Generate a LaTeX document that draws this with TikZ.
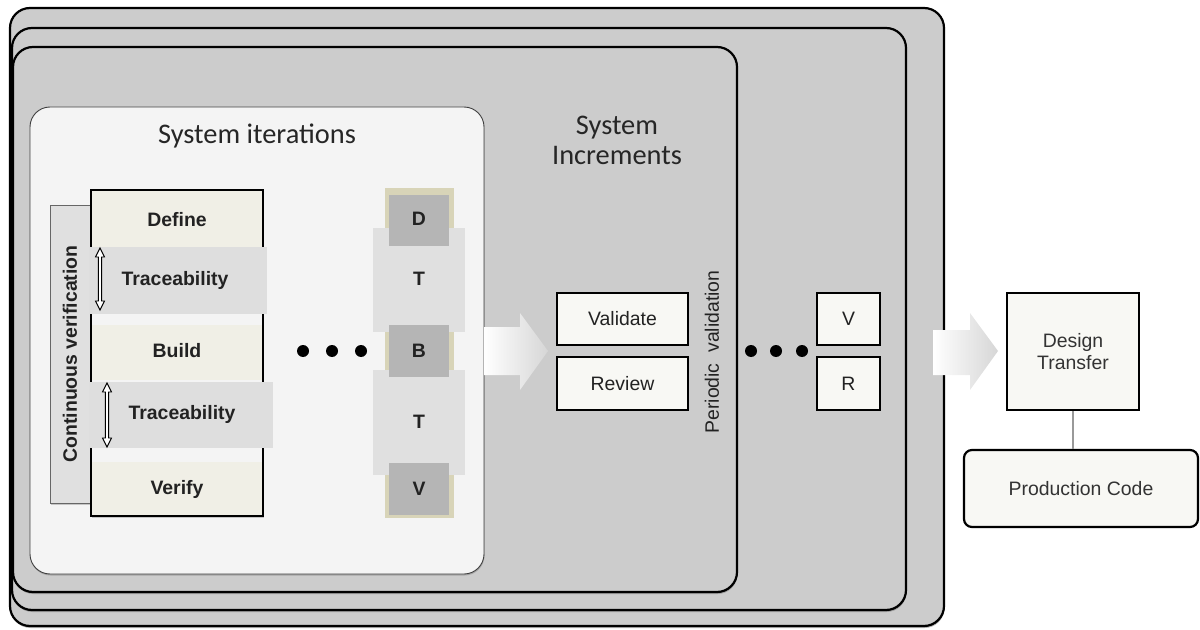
\documentclass[tikz,border=0pt]{standalone}
\usepackage{fontspec}
\setmainfont{Liberation Sans}
\newfontfamily\calib{Carlito}
\usetikzlibrary{shadows}
\definecolor{panelgray}{HTML}{CCCCCC}
\definecolor{innerwhite}{HTML}{F4F4F4}
\definecolor{cream}{HTML}{F0EFE6}
\definecolor{bandgray}{HTML}{DEDEDE}
\definecolor{tabgray}{HTML}{E0E0E0}
\definecolor{tan}{HTML}{D8D4B8}
\definecolor{midgray}{HTML}{B5B5B5}
\definecolor{boxfill}{HTML}{F8F8F4}
\definecolor{txt}{HTML}{222222}
\tikzset{
  panel/.style={draw=black, line width=2.2bp, fill=panelgray, rounded corners=20bp,
    drop shadow={shadow xshift=0.5bp, shadow yshift=-2bp, opacity=.6}},
  lbl/.style={font=\fontsize{19.5}{22}\selectfont, text=txt, inner sep=0pt},
  blbl/.style={font=\fontsize{19.5}{22}\selectfont\bfseries, text=txt, inner sep=0pt},
  wbox/.style={draw=black, line width=2.2bp, fill=boxfill},
  fatarrow/.style={left color=white, right color=black!16, draw=none},
  dotstyle/.style={fill=black, draw=none},
  smallarr/.style={draw=black, line width=0.9bp, fill=white},
}
\begin{document}
\begin{tikzpicture}[x=1bp,y=-1bp]
\useasboundingbox (0,0) rectangle (1200,630);
% stacked panels
\draw[panel] (10,8) rectangle (944,626);
\draw[panel] (12,28) rectangle (906,610);
\draw[panel] (13,47) rectangle (737,592);
% inner white panel
\draw[draw=black!75, line width=0.9bp, fill=innerwhite, rounded corners=20bp,
  drop shadow={shadow xshift=0.5bp, shadow yshift=-1.5bp, opacity=.5}] (30,107) rectangle (484,574);
\node[font=\calib\fontsize{28.5}{31}\selectfont, text=black!85] (titleA) at (257,136) {System iterations};
\node[font=\calib\fontsize{28.5}{31}\selectfont, text=black!85, align=center] (titleB) at (617,140) {System\\[-1pt]Increments};
% continuous verification tab
\draw[draw=black!60, line width=0.8bp, fill=tabgray,
  drop shadow={shadow xshift=0.5bp, shadow yshift=-1.5bp, opacity=.4}] (50,205) rectangle (91,503);
% column
\fill[innerwhite, drop shadow={shadow xshift=0.5bp, shadow yshift=-1.5bp, opacity=.4}] (91,190) rectangle (263,516);
\fill[cream] (91,190) rectangle (263,247);
\fill[cream] (91,325) rectangle (263,380);
\fill[cream] (91,462) rectangle (263,516);
\draw[line width=2.6bp, black] (91,190) rectangle (263,516);
\fill[bandgray] (89,247) rectangle (267,314);
\fill[bandgray] (89,382) rectangle (273,448);
\node[blbl, rotate=90] (cv) at (70,354) {Continuous verification};
\node[blbl] (def) at (177,220) {Define};
\node[blbl] (tr1) at (175,280) {Traceability};
\node[blbl] (bld) at (177,351) {Build};
\node[blbl] (tr2) at (182,414) {Traceability};
\node[blbl] (ver) at (177,489) {Verify};
% small double arrows
\draw[smallarr] (100,248) -- (104.5,257) -- (101.6,257) -- (101.6,301) -- (104.5,301) -- (100,310)
  -- (95.5,301) -- (98.4,301) -- (98.4,257) -- (95.5,257) -- cycle;
\draw[smallarr] (107,383) -- (111.5,392) -- (108.6,392) -- (108.6,438) -- (111.5,438) -- (107,447)
  -- (102.5,438) -- (105.4,438) -- (105.4,392) -- (102.5,392) -- cycle;
% dots
\foreach \xx in {303,332,361} \fill[dotstyle] (\xx,351) circle (6bp);
% mini column
\fill[tan] (385,188) rectangle (454,518);
\fill[bandgray!95!white] (373,228) rectangle (465,332);
\fill[bandgray!95!white] (373,370) rectangle (465,475);
\fill[midgray] (389,195) rectangle (449,246);
\fill[midgray] (389,325) rectangle (449,377);
\fill[midgray] (389,463) rectangle (449,515);
\node[blbl] (mD) at (419,219) {D};
\node[blbl] (mT1) at (419,279) {T};
\node[blbl] (mB) at (419,351) {B};
\node[blbl] (mT2) at (419,422) {T};
\node[blbl] (mV) at (419,489) {V};
% fat arrow 1
\shade[fatarrow] (484,327) -- (520,327) -- (520,313) -- (548,351) -- (520,390) -- (520,375) -- (484,375) -- cycle;
% validate / review
\node[wbox, minimum width=131bp, minimum height=52bp] (val) at (622.5,319) {};
\node[lbl] at (val) {Validate};
\node[wbox, minimum width=131bp, minimum height=53bp] (rev) at (622.5,383.5) {};
\node[lbl] at (rev) {Review};
\node[lbl, rotate=90] (pv) at (712,352) {Periodic\ \ validation};
% dots 2
\foreach \xx in {751,776,802} \fill[dotstyle] (\xx,351) circle (6bp);
\node[wbox, minimum width=63bp, minimum height=52bp] (vv) at (848.5,319) {};
\node[lbl] at (vv) {V};
\node[wbox, minimum width=63bp, minimum height=53bp] (rr) at (848.5,383.5) {};
\node[lbl] at (rr) {R};
% fat arrow 2
\shade[fatarrow] (933,330) -- (970,330) -- (970,313) -- (998,351) -- (970,390) -- (970,375) -- (933,375) -- cycle;
% design transfer
\node[wbox, minimum width=132bp, minimum height=117bp, align=center, font=\fontsize{19.5}{22}\selectfont, text=black!80] (dt) at (1073,351.5) {Design\\Transfer};
\node[wbox, rounded corners=8bp, minimum width=234bp, minimum height=77bp, font=\fontsize{19.5}{22}\selectfont, text=black!80] (pc) at (1081,488.5) {Production Code};
\draw[black!40, line width=1.5bp] (dt.south) -- (pc.north -| dt.south);
\end{tikzpicture}
\end{document}
